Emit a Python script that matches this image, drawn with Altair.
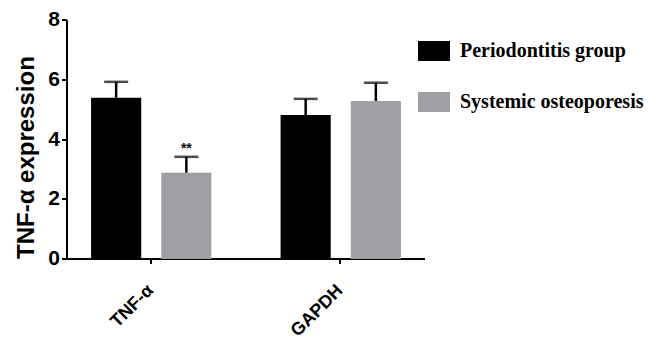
import altair as alt
import pandas as pd

genes = ["TNF-α", "TNF-α", "GAPDH", "GAPDH"]
groups = ["Periodontitis group", "Systemic osteoporesis", "Periodontitis group", "Systemic osteoporesis"]
means = [5.40, 2.89, 4.82, 5.29]
errors = [0.53, 0.53, 0.54, 0.61]
marks = ["", "**", "", ""]

gene_order = ["TNF-α", "GAPDH"]
group_order = ["Periodontitis group", "Systemic osteoporesis"]
group_colors = ["#000000", "#a0a0a4"]

df = pd.DataFrame({
    "gene": genes,
    "group": groups,
    "mean": means,
    "err": errors,
    "mark": marks,
})
df["top"] = df["mean"] + df["err"]

x_enc = alt.X(
    "gene:N",
    sort=gene_order,
    scale=alt.Scale(paddingInner=0.365, paddingOuter=0.127),
    axis=alt.Axis(
        title=None,
        labelAngle=-45,
        labelAlign="right",
        labelBaseline="middle",
        labelFont="Liberation Sans",
        labelFontWeight="bold",
        labelFontSize=18,
        labelColor="black",
        labelPadding=24,
        tickSize=5,
        tickWidth=2,
        tickColor="black",
        domainColor="black",
        domainWidth=2,
        translate=0,
    ),
)
xoff = alt.XOffset("group:N", sort=group_order,
                   scale=alt.Scale(paddingInner=0.2857, paddingOuter=0))

base = alt.Chart(df)

bars = base.mark_bar().encode(
    x=x_enc,
    xOffset=xoff,
    y=alt.Y(
        "mean:Q",
        scale=alt.Scale(domain=[0, 8], nice=False),
        axis=alt.Axis(
            title="TNF-α expression",
            values=[0, 2, 4, 6, 8],
            grid=False,
            labelFont="Liberation Sans",
            labelFontWeight="bold",
            labelFontSize=21,
            labelColor="black",
            labelPadding=2,
            tickSize=5,
            tickWidth=2,
            tickColor="black",
            domainColor="black",
            domainWidth=2,
            translate=0,
            titleFont="Liberation Sans",
            titleFontWeight="bold",
            titleFontSize=24,
            titleColor="black",
            titleAngle=270,
            titleAlign="left",
            titleBaseline="alphabetic",
            titleX=-33,
            titleY=239,
        ),
    ),
    color=alt.Color(
        "group:N",
        sort=group_order,
        scale=alt.Scale(domain=group_order, range=group_colors),
        legend=alt.Legend(
            title=None,
            orient="none",
            legendX=357,
            legendY=21,
            padding=0,
            symbolType="M-1.6,-1H1.6V1H-1.6Z",
            symbolSize=400,
            symbolStrokeWidth=0,
            labelFont="Liberation Serif",
            labelFontWeight="bold",
            labelFontSize=20,
            labelColor="black",
            labelOffset=16,
            labelLimit=0,
            rowPadding=31,
        ),
    ),
)

rules = base.mark_rule(color="black", strokeWidth=2.5).encode(
    x=alt.X("gene:N", sort=gene_order),
    xOffset=xoff,
    y="mean:Q",
    y2="top:Q",
)

caps = base.mark_tick(color="black", thickness=2.5, size=24, orient="horizontal").encode(
    x=alt.X("gene:N", sort=gene_order),
    xOffset=xoff,
    y="top:Q",
)

stars = base.mark_text(
    color="black", font="Liberation Sans", fontWeight="bold", fontSize=14,
    baseline="alphabetic", dy=-4,
).encode(
    x=alt.X("gene:N", sort=gene_order),
    xOffset=xoff,
    y="top:Q",
    text="mark:N",
)

chart = alt.layer(bars, rules, caps, stars).properties(
    width=358,
    height=239,
    background="white",
    autosize=alt.AutoSizeParams(type="none"),
    padding={"left": 59, "top": 12, "right": 228, "bottom": 80},
).configure_view(stroke=None)

chart.save("out.html", embed_options={"renderer": "svg", "actions": False})
